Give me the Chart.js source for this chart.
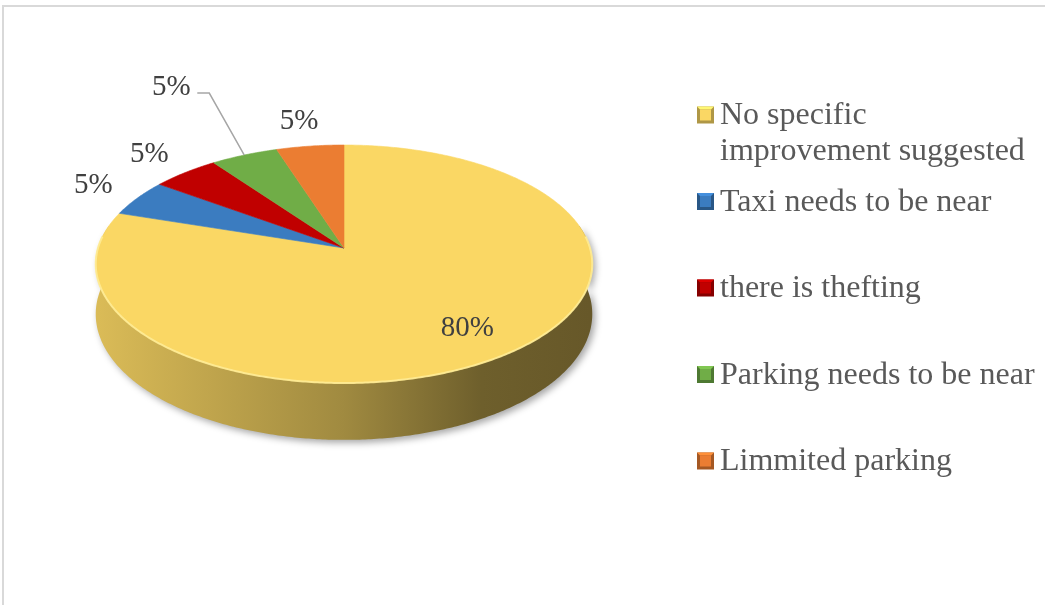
<!DOCTYPE html>
<html>
<head>
<meta charset="UTF-8">
<title>Suggested improvements</title>
<style>
  body { margin: 0; background: #fff; }
  #wrap { position: relative; width: 1045px; height: 605px; overflow: hidden; }
  #frame { position: absolute; left: 2px; top: 5px; width: 1100px; height: 700px; border: 2px solid #d9d9d9; box-sizing: border-box; }
  #pie { position: absolute; left: 0; top: 0; }
</style>
</head>
<body>
<div id="wrap">
  <div id="frame"></div>
  <canvas id="pie" width="1045" height="605"></canvas>
</div>
<script src="https://cdn.jsdelivr.net/npm/chart.js@4.4.0/dist/chart.umd.min.js"></script>
<script>
var labels = [['No specific', 'improvement suggested'], 'Taxi needs to be near', 'there is thefting', 'Parking needs to be near', 'Limmited parking'];
var values = [80, 5, 5, 5, 5];
var colors = ['#fad764', '#3b7cc0', '#c00000', '#70ad47', '#eb7d32'];
// data label moved off the slice by hand, drawn with a leader line
var calloutShift = [null, null, null, [-73, -68], null];

// tilt of the disc, perspective strength and thickness (as fractions of radius)
var TILT = 0.475, PERSP = 0.1346, DEPTH = 0.2;

function rgb(hex) {
  return [parseInt(hex.substr(1, 2), 16), parseInt(hex.substr(3, 2), 16), parseInt(hex.substr(5, 2), 16)];
}
function shade(hex, f) {
  var c = rgb(hex);
  return 'rgb(' + Math.min(255, Math.round(c[0] * f)) + ',' + Math.min(255, Math.round(c[1] * f)) + ',' + Math.min(255, Math.round(c[2] * f)) + ')';
}

var pie3d = {
  id: 'pie3d',
  beforeDatasetsDraw: function (chart) {
    var ctx = chart.ctx;
    var arcs = chart.getDatasetMeta(0).data;
    var p0 = arcs[0].getProps(['x', 'y', 'outerRadius'], true);
    var cx = p0.x, cy = p0.y, R = p0.outerRadius;
    var H = R * TILT, T = R * DEPTH;

    function proj(a, f, z) {
      var u = Math.cos(a) * f, v = Math.sin(a) * f;
      var s = 1 / (1 - PERSP * v);
      return [cx + R * u * s, cy + (H * v + z) * s];
    }
    function rim(a0, a1, z, path) {
      var n = Math.max(2, Math.ceil(Math.abs(a1 - a0) / 0.01));
      for (var i = 0; i <= n; i++) {
        var p = proj(a0 + (a1 - a0) * i / n, 1, z);
        path.push(p);
      }
    }

    ctx.save();
    // outer wall, front half only
    var lo = -0.2, hi = Math.PI + 0.2;
    arcs.forEach(function (arc, i) {
      var a = arc.getProps(['startAngle', 'endAngle'], true);
      var s0 = Math.max(a.startAngle, lo), s1 = Math.min(a.endAngle, hi);
      if (s1 <= s0) return;
      var pts = [];
      rim(s0, s1, 0, pts);
      var bottom = [];
      rim(s1, s0, T, bottom);
      pts = pts.concat(bottom);
      var g = ctx.createLinearGradient(cx - R, 0, cx + R, 0);
      g.addColorStop(0, shade(colors[i], 0.87));
      g.addColorStop(0.5, shade(colors[i], 0.64));
      g.addColorStop(0.78, shade(colors[i], 0.44));
      g.addColorStop(1, shade(colors[i], 0.41));
      ctx.beginPath();
      pts.forEach(function (p, k) { k ? ctx.lineTo(p[0], p[1]) : ctx.moveTo(p[0], p[1]); });
      ctx.closePath();
      ctx.shadowColor = 'rgba(0,0,0,0.35)';
      ctx.shadowBlur = 7;
      ctx.shadowOffsetX = 3;
      ctx.shadowOffsetY = 3;
      ctx.fillStyle = g;
      ctx.fill();
    });
    ctx.shadowColor = 'transparent';

    // top face
    arcs.forEach(function (arc, i) {
      var a = arc.getProps(['startAngle', 'endAngle'], true);
      var pts = [[cx, cy]];
      rim(a.startAngle, a.endAngle, 0, pts);
      ctx.beginPath();
      pts.forEach(function (p, k) { k ? ctx.lineTo(p[0], p[1]) : ctx.moveTo(p[0], p[1]); });
      ctx.closePath();
      ctx.fillStyle = colors[i];
      ctx.fill();
      ctx.strokeStyle = colors[i];
      ctx.lineWidth = 0.6;
      ctx.stroke();
    });

    // light bevel along the front rim
    var edge = [];
    rim(-0.1, Math.PI + 0.1, 0, edge);
    ctx.beginPath();
    edge.forEach(function (p, k) { k ? ctx.lineTo(p[0], p[1]) : ctx.moveTo(p[0], p[1]); });
    ctx.strokeStyle = 'rgba(255,236,150,0.9)';
    ctx.lineWidth = 2;
    ctx.stroke();

    // data labels
    var total = values.reduce(function (s, v) { return s + v; }, 0);
    ctx.font = '29px "Liberation Serif", "Times New Roman", serif';
    ctx.fillStyle = '#404040';
    ctx.textAlign = 'center';
    ctx.textBaseline = 'middle';
    arcs.forEach(function (arc, i) {
      var a = arc.getProps(['startAngle', 'endAngle'], true);
      var mid = (a.startAngle + a.endAngle) / 2;
      var share = values[i] / total;
      var text = Math.round(share * 100) + '%';
      var pos;
      if (share >= 0.25) {
        pos = proj(mid, 0.78, 0);
      } else {
        var edgePt = proj(mid, 1, 0);
        if (calloutShift[i]) {
          pos = [edgePt[0] + calloutShift[i][0], edgePt[1] + calloutShift[i][1]];
          ctx.beginPath();
          ctx.moveTo(pos[0] + 26, pos[1] + 6);
          ctx.lineTo(pos[0] + 38, pos[1] + 6);
          ctx.lineTo(edgePt[0], edgePt[1]);
          ctx.strokeStyle = '#a6a6a6';
          ctx.lineWidth = 1.5;
          ctx.stroke();
        } else {
          pos = [edgePt[0] + Math.cos(mid) * 45 - 4, edgePt[1] + Math.sin(mid) * 22 - 3];
        }
      }
      ctx.fillText(text, pos[0], pos[1]);
    });
    ctx.restore();
    return false;
  },
  afterDraw: function (chart) {
    // legend on the right, evenly spaced entries
    var ctx = chart.ctx;
    var x0 = 697, y0 = 115, step = 86.5, box = 17, lineH = 36;
    ctx.save();
    ctx.font = '32px "Liberation Serif", "Times New Roman", serif';
    ctx.textAlign = 'left';
    ctx.textBaseline = 'middle';
    chart.data.labels.forEach(function (lab, i) {
      var y = y0 + i * step;
      var bx = x0, by = y - box / 2;
      // small bevelled swatch
      ctx.fillStyle = shade(colors[i], 0.7);
      ctx.fillRect(bx, by, box, box);
      ctx.fillStyle = shade(colors[i], 1.15);
      ctx.beginPath();
      ctx.moveTo(bx, by); ctx.lineTo(bx + box, by); ctx.lineTo(bx + box - 3, by + 3); ctx.lineTo(bx + 3, by + 3);
      ctx.closePath();
      ctx.fill();
      ctx.fillStyle = colors[i];
      ctx.fillRect(bx + 3, by + 3, box - 6, box - 6);
      ctx.fillStyle = '#595959';
      var lines = Array.isArray(lab) ? lab : [lab];
      lines.forEach(function (t, k) {
        ctx.fillText(t, 720, y + 1 + k * lineH);
      });
    });
    ctx.restore();
  }
};

new Chart(document.getElementById('pie'), {
  type: 'pie',
  data: {
    labels: labels,
    datasets: [{ data: values, backgroundColor: colors, borderWidth: 0 }]
  },
  options: {
    responsive: false,
    animation: false,
    events: [],
    devicePixelRatio: 1,
    layout: { padding: { left: 98, right: 455, top: 2, bottom: 111 } },
    plugins: { legend: { display: false }, tooltip: { enabled: false } }
  },
  plugins: [pie3d]
});
</script>
</body>
</html>
